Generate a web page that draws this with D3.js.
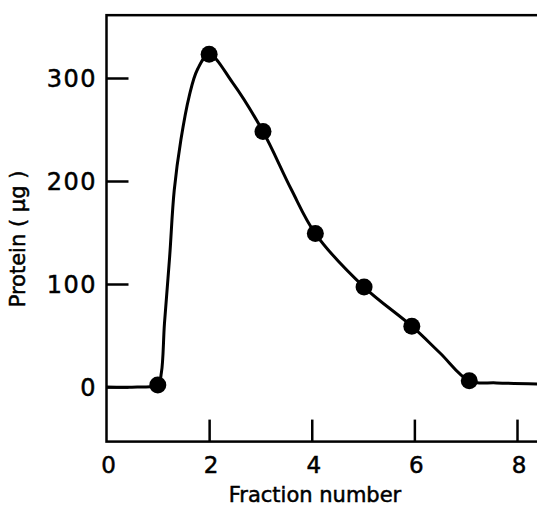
<!DOCTYPE html>
<html lang="en">
<head>
<meta charset="UTF-8">
<title>Protein elution</title>
<style>
  body { margin: 0; background: #fff; }
  text { font-family: "DejaVu Sans", sans-serif; fill: #000; stroke: #000; stroke-width: 0.5px; }
</style>
</head>
<body>
<div id="chart"></div>
<script src="https://d3js.org/d3.v7.min.js"></script>
<script>
// measured fractions (dots)
const fraction = [1.0, 2.0, 3.05, 4.07, 5.02, 5.95, 7.07];
const protein = [2, 323, 248, 149, 97, 59, 6];

// hand-drawn curve
const traceX = [0, 0.6, 1.0, 1.07, 1.13, 1.23, 1.32, 1.45, 1.61, 1.77, 2.0, 2.45, 3.05, 3.6, 4.07, 5.02, 5.95, 6.5, 7.07, 7.6, 8.4];
const traceY = [0, 0, 2, 14, 62, 126, 191, 240, 282, 308, 323, 296, 248, 192, 149, 97, 59, 33, 6, 4, 3];

const xTicks = [0, 2, 4, 6, 8];
const yTicks = [0, 100, 200, 300];

const W = 537, H = 508;

const x = d3.scaleLinear().domain([0, 8]).range([106.5, 517]);
const y = d3.scaleLinear().domain([0, 300]).range([387, 78]);

const xMax = 8.6, yMin = -53, yMax = 361;

const svg = d3.select("#chart").append("svg")
    .attr("width", W)
    .attr("height", H);

// frame
svg.append("rect")
    .attr("x", x(0))
    .attr("y", y(yMax))
    .attr("width", x(xMax) - x(0))
    .attr("height", y(yMin) - y(yMax))
    .attr("fill", "none")
    .attr("stroke", "#000")
    .attr("stroke-width", 2.5);

// y ticks, pointing inward
svg.append("g")
    .attr("transform", `translate(${x(0)},0)`)
    .call(d3.axisRight(y).tickValues(yTicks).tickSize(22).tickFormat(""))
    .call(g => g.select(".domain").remove())
    .call(g => g.selectAll("line").attr("stroke-width", 2.5));

svg.append("g").selectAll("text")
    .data(yTicks)
    .join("text")
    .attr("x", 97)
    .attr("y", d => y(d) + 9)
    .attr("text-anchor", "end")
    .attr("font-size", 24)
    .attr("letter-spacing", 1.5)
    .text(d => d);

// x ticks, pointing inward
svg.append("g")
    .attr("transform", `translate(0,${y(yMin)})`)
    .call(d3.axisTop(x).tickValues(xTicks.filter(d => d > 0)).tickSize(22).tickFormat(""))
    .call(g => g.select(".domain").remove())
    .call(g => g.selectAll("line").attr("stroke-width", 2.5));

svg.append("g").selectAll("text")
    .data(xTicks)
    .join("text")
    .attr("x", d => x(d) + 2)
    .attr("y", 473)
    .attr("text-anchor", "middle")
    .attr("font-size", 23)
    .text(d => d);

// axis titles
svg.append("text")
    .attr("x", 315)
    .attr("y", 502)
    .attr("text-anchor", "middle")
    .attr("font-size", 21)
    .text("Fraction number");

svg.append("text")
    .attr("transform", `translate(25,239) rotate(-90)`)
    .attr("text-anchor", "middle")
    .attr("font-size", 21)
    .text("Protein ( μg )");

// curve
const trace = traceX.map((d, i) => [d, traceY[i]]);
svg.append("path")
    .datum(trace)
    .attr("fill", "none")
    .attr("stroke", "#000")
    .attr("stroke-width", 3)
    .attr("d", d3.line()
        .x(d => x(d[0]))
        .y(d => y(d[1]))
        .curve(d3.curveCatmullRom.alpha(0.5)));

// dots
svg.append("g").selectAll("circle")
    .data(fraction)
    .join("circle")
    .attr("cx", d => x(d))
    .attr("cy", (d, i) => y(protein[i]))
    .attr("r", 8.5)
    .attr("fill", "#000");
</script>
</body>
</html>
